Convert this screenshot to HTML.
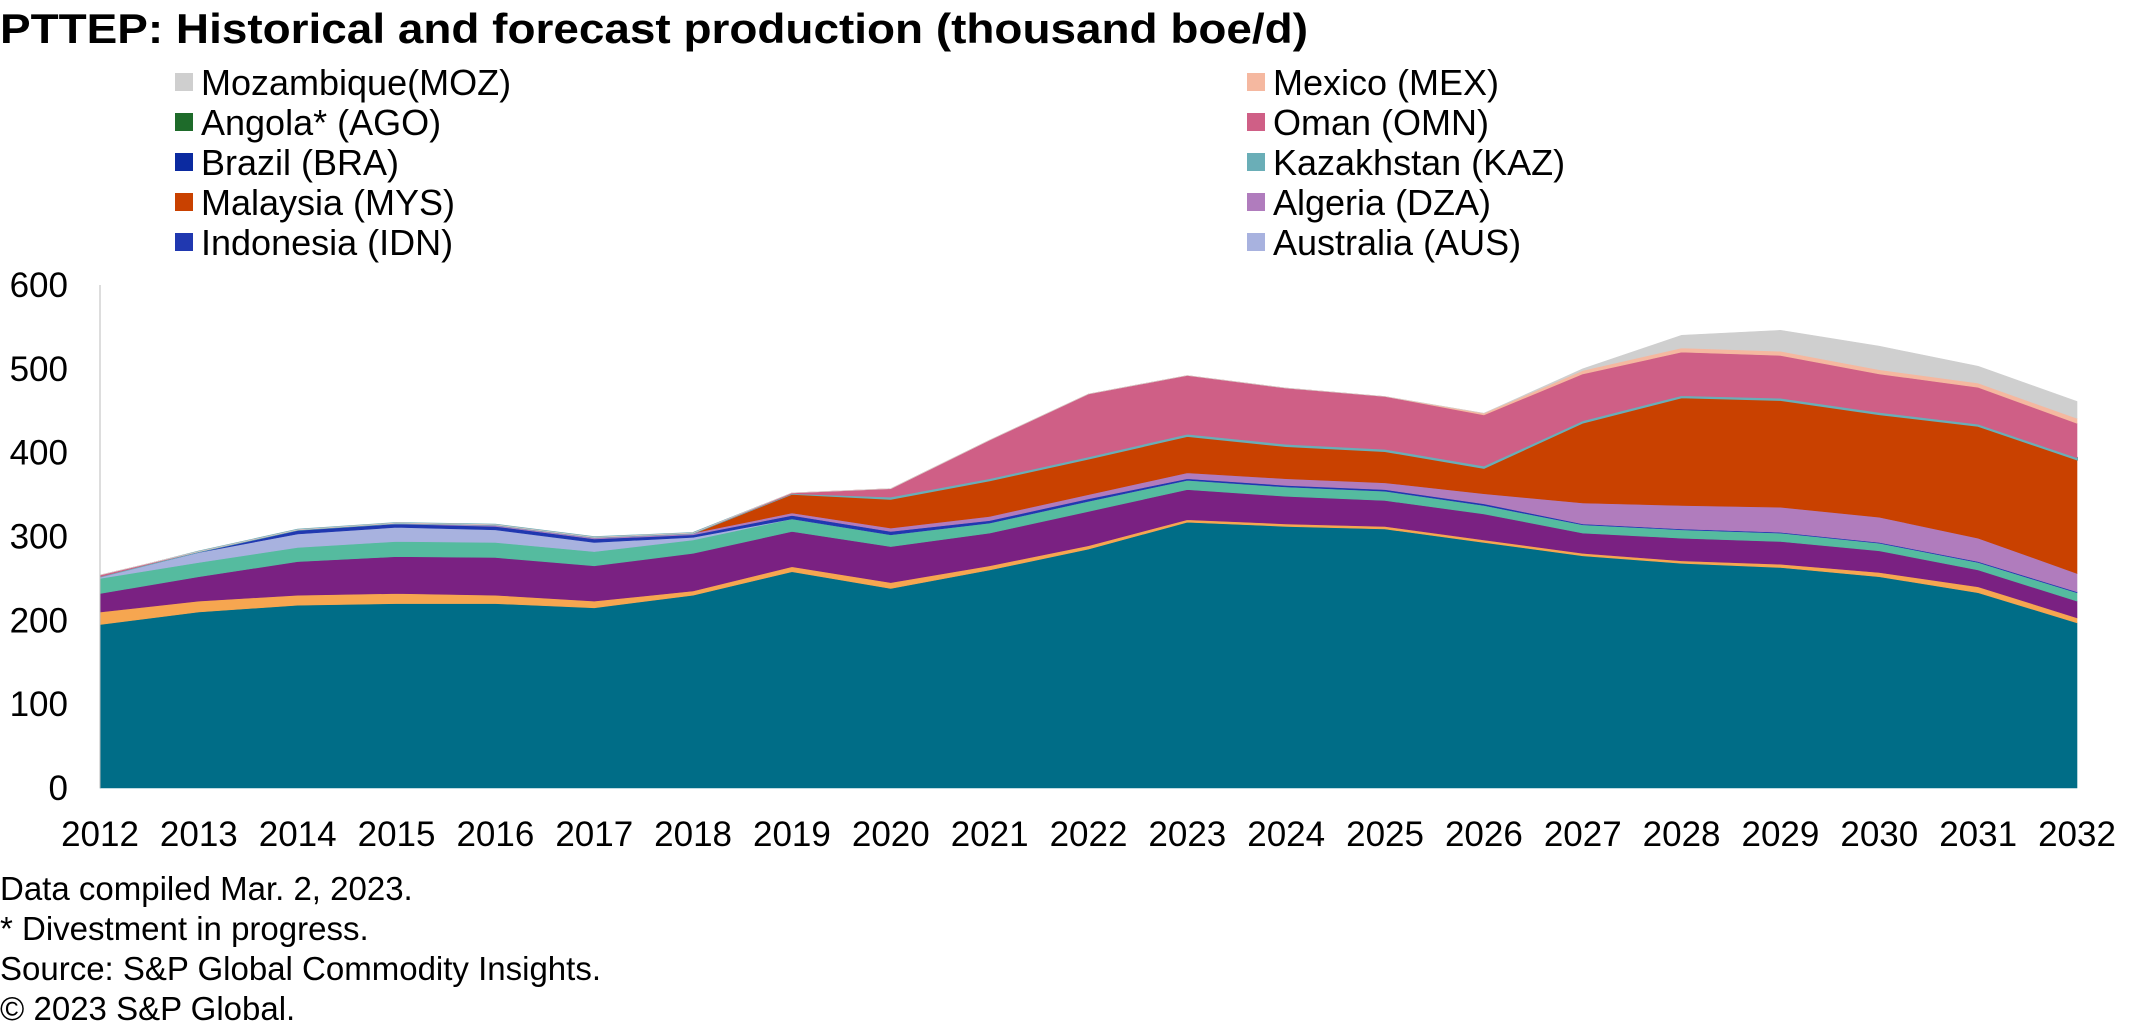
<!DOCTYPE html>
<html><head><meta charset="utf-8"><style>
body{margin:0;background:#fff;width:2145px;height:1026px;overflow:hidden;font-family:"Liberation Sans",Arial,sans-serif;}
svg{display:block}
</style></head><body>
<svg id="chart" width="2145" height="1026" xmlns="http://www.w3.org/2000/svg" font-family="Liberation Sans, Arial, sans-serif">
<text x="0" y="43" font-size="42" font-weight="bold" fill="#000" textLength="1308" lengthAdjust="spacingAndGlyphs">PTTEP: Historical and forecast production (thousand boe/d)</text>
<g id="legend"></g>
<g id="areas"></g>
<g id="axes"></g>
<g font-size="33" fill="#000">
<text x="0" y="900">Data compiled Mar. 2, 2023.</text>
<text x="0" y="940">* Divestment in progress.</text>
<text x="0" y="980">Source: S&amp;P Global Commodity Insights.</text>
<text x="0" y="1020">© 2023 S&amp;P Global.</text>
</g>
</svg>
<script>
const years = [2012,2013,2014,2015,2016,2017,2018,2019,2020,2021,2022,2023,2024,2025,2026,2027,2028,2029,2030,2031,2032];
const yTicks = [0,100,200,300,400,500,600];
const seriesNames = ["Thailand","Myanmar","Vietnam","Other","Australia (AUS)","Indonesia (IDN)","Algeria (DZA)","Malaysia (MYS)","Kazakhstan (KAZ)","Oman (OMN)","Mexico (MEX)","Mozambique(MOZ)"];
const seriesColors = ["#006d87","#f6a650","#7a2182","#55bb9f","#a8b2df","#2038b0","#b07cbd","#c94100","#6aaeb7","#cf5f86","#f5b8a0","#cfcfcf"];
const thailand   = [195,210,218,220,220,215,230,258,238,260,285,317,312,309,293,277,268,263,252,233,197];
const myanmar    = [15,13,12,12,10,8,5,6,7,5,4,3,3,3,3,3,3,4,5,7,6];
const purple     = [22,29,40,44,45,42,45,42,43,39,41,36,33,31,31,24,27,27,26,20,20];
const green      = [18,17,17,18,18,17,16,15,14,12,12,11,11,11,10,10,10,10,9,9,10];
const australia  = [2,12,16,17,15,11,3,0,0,0,0,0,0,0,0,0,0,0,0,0,0];
const indonesia  = [0,1,5,4,4,4,3,4,4,3,3,2,2,2,2,1,1,1,1,1,1];
const algeria    = [0,0,0,1,2,2,2,3,4,5,5,7,8,8,12,25,28,30,30,28,22];
const malaysia   = [0,0,0,0,0,0,0,23,35,43,43,44,39,38,31,96,129,128,123,134,136];
const kazakhstan = [0,0,0,0,0,0,0,0,2,2,2,2,2,2,2,2,2,2,2,2,2];
const oman       = [2,0,0,0,0,0,0,1,10,46,75,70,67,63,61,56,52,51,46,44,41];
const mexico     = [0,0,0,0,0,0,0,0,0,0,0,0,0,0,2,4,5,5,5,5,6];
const mozambique = [0,0,0,0,0,0,0,0,0,0,0,0,0,0,0,2,15,25,28,20,20];
const series = [thailand,myanmar,purple,green,australia,indonesia,algeria,malaysia,kazakhstan,oman,mexico,mozambique];

const NS="http://www.w3.org/2000/svg";
const X0=100,X1=2077,Y0=788,Y1=285,VMAX=600;
const xs=i=>X0+(X1-X0)*i/(years.length-1);
const ys=v=>Y0-(Y0-Y1)*v/VMAX;
function mk(tag,attrs,parent){const e=document.createElementNS(NS,tag);for(const k in attrs)e.setAttribute(k,attrs[k]);parent.appendChild(e);return e;}

const areas=document.getElementById('areas');
let base=years.map(()=>0);
series.forEach((s,si)=>{
  const top=base.map((b,i)=>b+s[i]);
  let d="";
  top.forEach((v,i)=>{d+=(i?"L":"M")+xs(i).toFixed(1)+","+ys(v).toFixed(1);});
  for(let i=years.length-1;i>=0;i--)d+="L"+xs(i).toFixed(1)+","+ys(base[i]).toFixed(1);
  d+="Z";
  const p=mk('path',{d:d,fill:seriesColors[si],stroke:seriesColors[si],'stroke-width':si===8?2:0.6},areas);
  
  
  base=top;
});

const axes=document.getElementById('axes');
const yl=mk('line',{x1:X0,y1:Y1,x2:X0,y2:Y0,stroke:'#bbb','stroke-width':1},axes);


yTicks.forEach(t=>{
  const e=mk('text',{x:68,y:ys(t)+12,'font-size':35,'text-anchor':'end',fill:'#000'},axes);
  e.textContent=t;
  
  
});
years.forEach((yr,i)=>{
  const e=mk('text',{x:xs(i),y:846,'font-size':35,'text-anchor':'middle',fill:'#000'},axes);
  e.textContent=yr;
  
  
});

const legend=document.getElementById('legend');
const legItems=[
  ["Mozambique(MOZ)","#cfcfcf",175,82],["Angola* (AGO)","#1e6b2a",175,122],["Brazil (BRA)","#0b2aa0",175,162],
  ["Malaysia (MYS)","#c94100",175,202],["Indonesia (IDN)","#2038b0",175,242],
  ["Mexico (MEX)","#f5b8a0",1247,82],["Oman (OMN)","#cf5f86",1247,122],["Kazakhstan (KAZ)","#6aaeb7",1247,162],
  ["Algeria (DZA)","#b07cbd",1247,202],["Australia (AUS)","#a8b2df",1247,242]
];
legItems.forEach(it=>{
  const g=mk('g',{},legend);
  
  
  mk('rect',{x:it[2],y:it[3]-9,width:18,height:18,fill:it[1]},g);
  const t=mk('text',{x:it[2]+26,y:it[3]+13,'font-size':36,fill:'#000'},g);
  t.textContent=it[0];
});
</script>
</body></html>
